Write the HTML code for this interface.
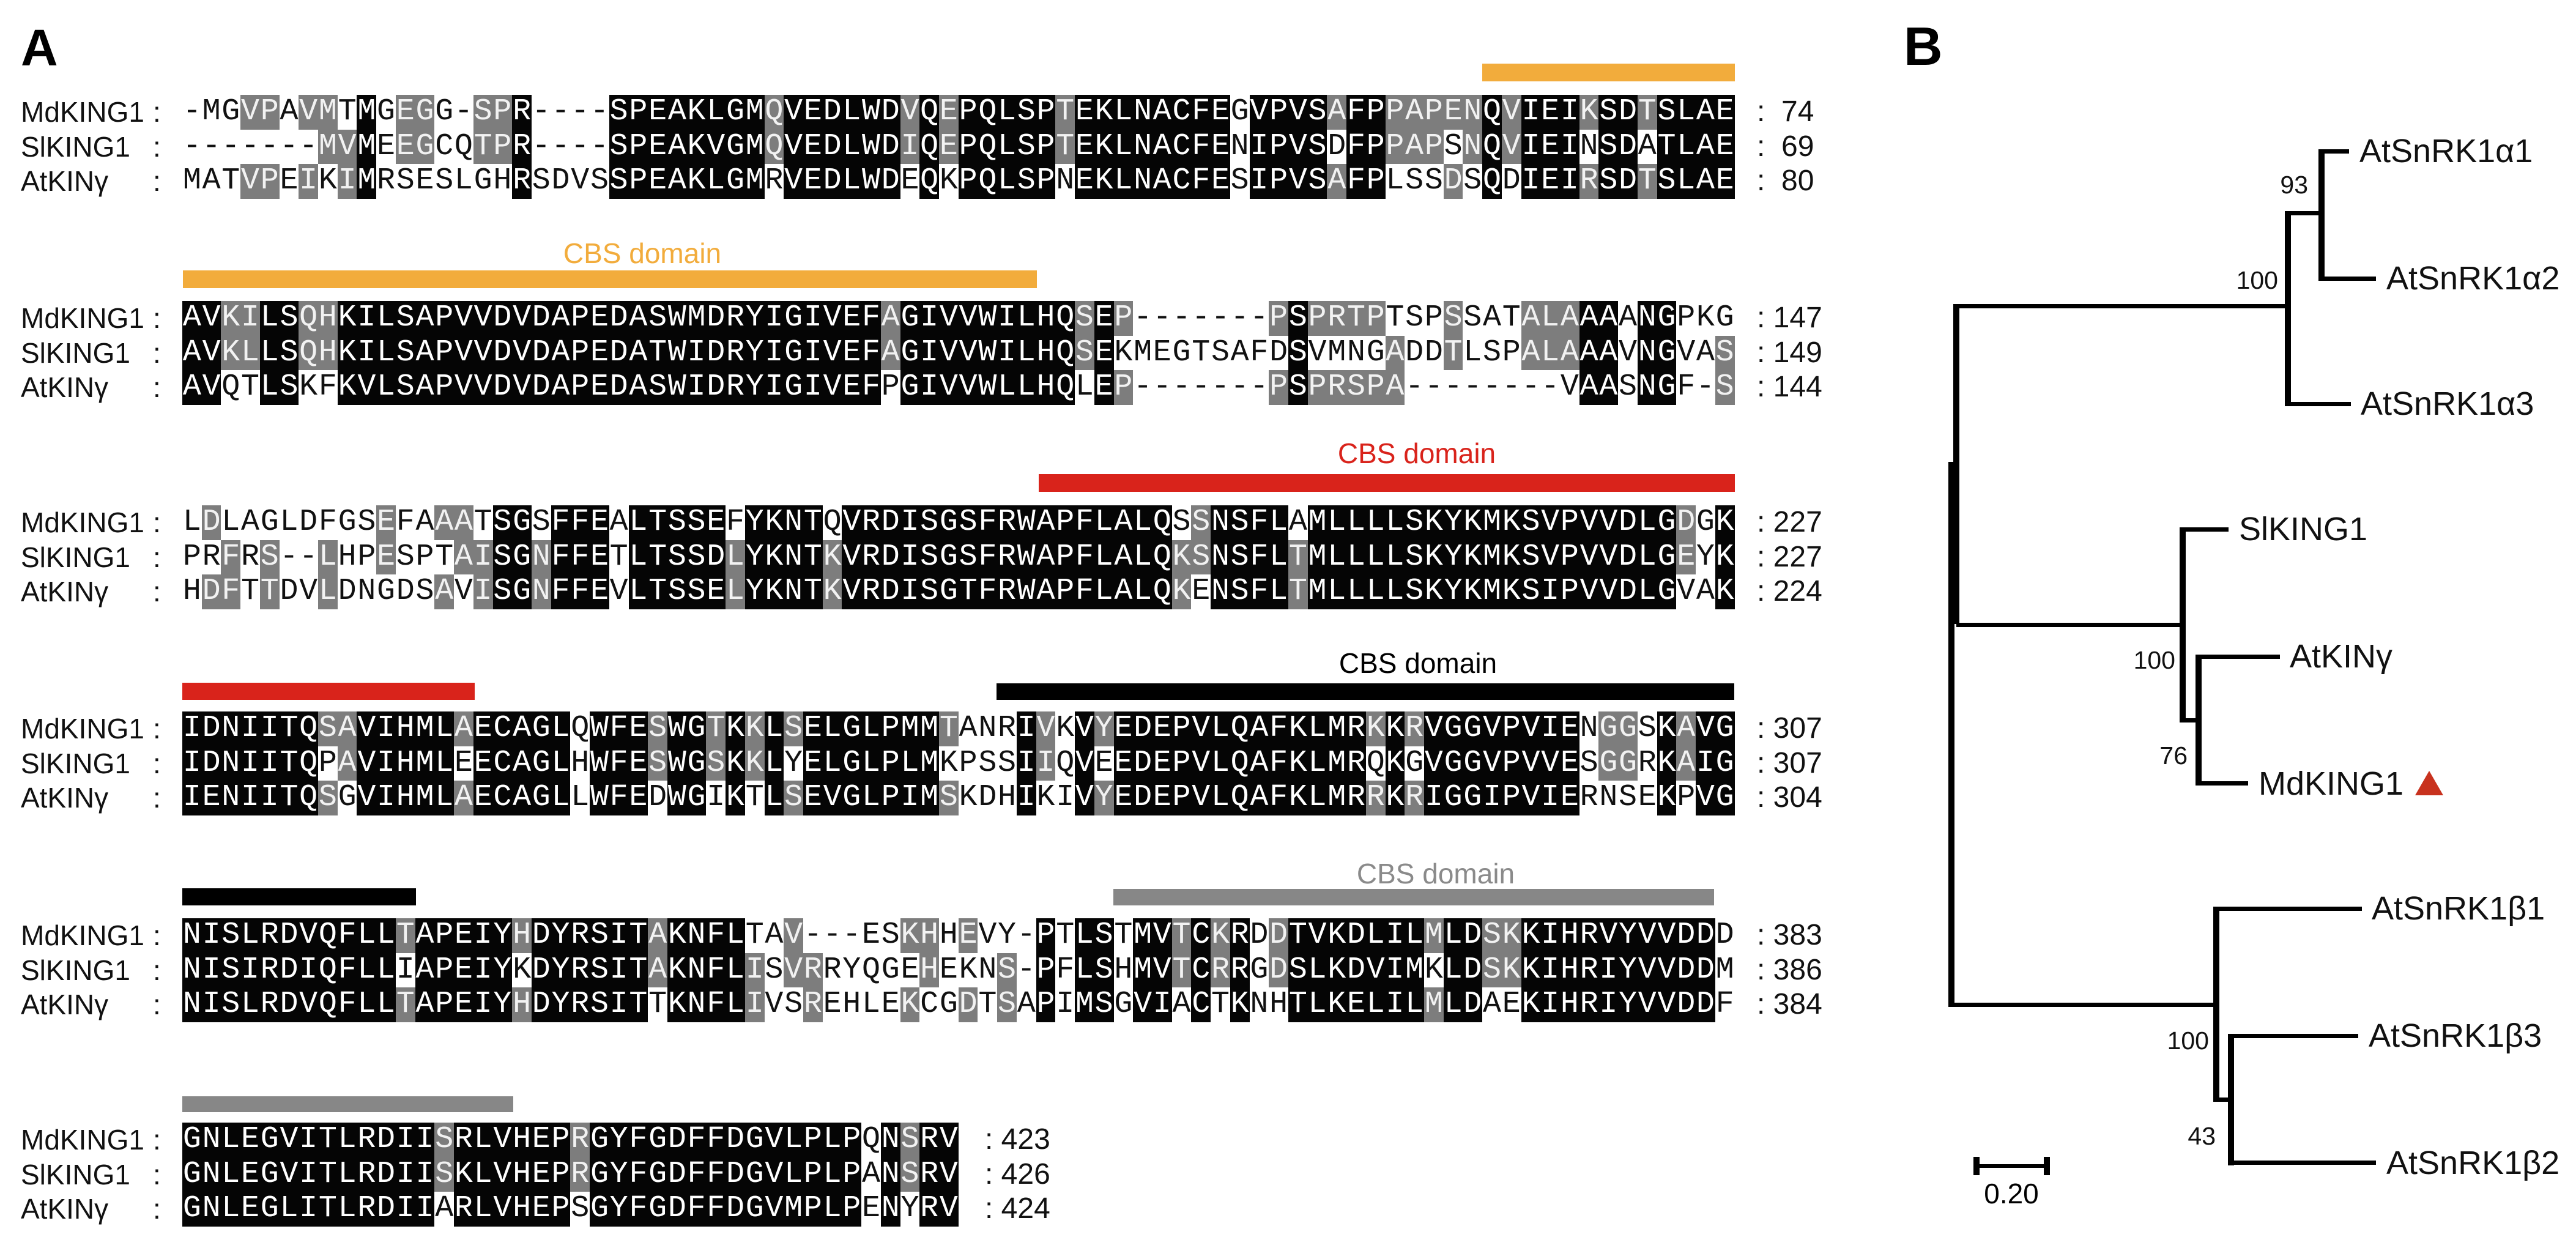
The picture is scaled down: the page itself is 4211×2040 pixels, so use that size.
<!DOCTYPE html>
<html><head><meta charset="utf-8">
<style>
html,body{margin:0;padding:0;background:#fff;}
#page{position:relative;width:4211px;height:2040px;overflow:hidden;background:#fff;font-family:"Liberation Sans",Arial,sans-serif;}
.abs{position:absolute;}
.nm{position:absolute;font-size:46px;height:56px;line-height:56px;color:#111;white-space:nowrap;}
.num{position:absolute;font-size:48px;height:56px;line-height:56px;color:#111;white-space:nowrap;}
.seq{position:absolute;left:298px;height:56.5px;line-height:56.5px;font-family:"Liberation Mono","DejaVu Sans Mono",monospace;font-size:50px;white-space:pre;color:#111;}
.seq span{display:inline-block;width:31.72px;height:56.5px;text-align:center;vertical-align:top;}
.seq span.b{background:#050505;color:#fff;}
.seq span.g{background:#7d7d7d;color:#f2f2f2;}
.bar{position:absolute;}
.lab{position:absolute;font-size:46px;height:50px;line-height:50px;white-space:nowrap;transform:translateX(-50%);}
.ln{position:absolute;background:#000;}
.tl{position:absolute;font-size:54px;height:60px;line-height:60px;white-space:nowrap;color:#111;}
.bs{position:absolute;font-size:41px;height:46px;line-height:46px;white-space:nowrap;color:#111;text-align:right;width:100px;}
</style></head>
<body><div id="page">

<div class="abs" style="left:34px;top:36px;font-size:84px;font-weight:bold;line-height:84px;">A</div>
<div class="abs" style="left:3112px;top:32px;font-size:88px;font-weight:bold;line-height:88px;">B</div>

<div class="bar" style="left:2423px;top:104px;width:413px;height:29px;background:#f2ac3c"></div>
<div class="bar" style="left:299px;top:442px;width:1396px;height:29px;background:#f2ac3c"></div>
<div class="lab" style="left:1050px;top:389px;color:#f2ac3c">CBS domain</div>
<div class="bar" style="left:1698px;top:775px;width:1138px;height:29px;background:#d9231b"></div>
<div class="lab" style="left:2316px;top:716px;color:#d9231b">CBS domain</div>
<div class="bar" style="left:298px;top:1116px;width:478px;height:28px;background:#d9231b"></div>
<div class="bar" style="left:1629px;top:1117px;width:1206px;height:27px;background:#000"></div>
<div class="lab" style="left:2318px;top:1059px;color:#000">CBS domain</div>
<div class="bar" style="left:298px;top:1452px;width:382px;height:28px;background:#000"></div>
<div class="bar" style="left:1820px;top:1453px;width:982px;height:27px;background:#878787"></div>
<div class="lab" style="left:2347px;top:1403px;color:#8a8a8a">CBS domain</div>
<div class="bar" style="left:298px;top:1792px;width:541px;height:26px;background:#878787"></div>

<!-- Block 1 -->
<div class="nm" style="left:34px;top:155px">MdKING1</div><div class="nm" style="left:250px;top:155px">:</div>
<div class="nm" style="left:34px;top:211.5px">SlKING1</div><div class="nm" style="left:250px;top:211.5px">:</div>
<div class="nm" style="left:34px;top:268px">AtKINγ</div><div class="nm" style="left:250px;top:268px">:</div>
<div class="seq" data-blk="1" style="top:155px">-MGVPAVMTMGEGG-SPR----SPEAKLGMQVEDLWDVQEPQLSPTEKLNACFEGVPVSAFPPAPENQVIEIKSDTSLAE</div>
<div class="seq" data-blk="1" style="top:211.5px">-------MVMEEGCQTPR----SPEAKVGMQVEDLWDIQEPQLSPTEKLNACFENIPVSDFPPAPSNQVIEINSDATLAE</div>
<div class="seq" data-blk="1" style="top:268px">MATVPEIKIMRSESLGHRSDVSSPEAKLGMRVEDLWDEQKPQLSPNEKLNACFESIPVSAFPLSSDSQDIEIRSDTSLAE</div>
<div class="num" style="left:2872px;top:155px">: &nbsp;74</div>
<div class="num" style="left:2872px;top:211.5px">: &nbsp;69</div>
<div class="num" style="left:2872px;top:268px">: &nbsp;80</div>

<!-- Block 2 -->
<div class="nm" style="left:34px;top:492px">MdKING1</div><div class="nm" style="left:250px;top:492px">:</div>
<div class="nm" style="left:34px;top:548.5px">SlKING1</div><div class="nm" style="left:250px;top:548.5px">:</div>
<div class="nm" style="left:34px;top:605px">AtKINγ</div><div class="nm" style="left:250px;top:605px">:</div>
<div class="seq" data-blk="2" style="top:492px">AVKILSQHKILSAPVVDVDAPEDASWMDRYIGIVEFAGIVVWILHQSEP-------PSPRTPTSPSSATALAAAANGPKG</div>
<div class="seq" data-blk="2" style="top:548.5px">AVKLLSQHKILSAPVVDVDAPEDATWIDRYIGIVEFAGIVVWILHQSEKMEGTSAFDSVMNGADDTLSPALAAAVNGVAS</div>
<div class="seq" data-blk="2" style="top:605px">AVQTLSKFKVLSAPVVDVDAPEDASWIDRYIGIVEFPGIVVWLLHQLEP-------PSPRSPA--------VAASNGF-S</div>
<div class="num" style="left:2872px;top:492px">: 147</div>
<div class="num" style="left:2872px;top:548.5px">: 149</div>
<div class="num" style="left:2872px;top:605px">: 144</div>

<!-- Block 3 -->
<div class="nm" style="left:34px;top:826px">MdKING1</div><div class="nm" style="left:250px;top:826px">:</div>
<div class="nm" style="left:34px;top:882.5px">SlKING1</div><div class="nm" style="left:250px;top:882.5px">:</div>
<div class="nm" style="left:34px;top:939px">AtKINγ</div><div class="nm" style="left:250px;top:939px">:</div>
<div class="seq" data-blk="3" style="top:826px">LDLAGLDFGSEFAAATSGSFFEALTSSEFYKNTQVRDISGSFRWAPFLALQSSNSFLAMLLLLSKYKMKSVPVVDLGDGK</div>
<div class="seq" data-blk="3" style="top:882.5px">PRFRS--LHPESPTAISGNFFETLTSSDLYKNTKVRDISGSFRWAPFLALQKSNSFLTMLLLLSKYKMKSVPVVDLGEYK</div>
<div class="seq" data-blk="3" style="top:939px">HDFTTDVLDNGDSAVISGNFFEVLTSSELYKNTKVRDISGTFRWAPFLALQKENSFLTMLLLLSKYKMKSIPVVDLGVAK</div>
<div class="num" style="left:2872px;top:826px">: 227</div>
<div class="num" style="left:2872px;top:882.5px">: 227</div>
<div class="num" style="left:2872px;top:939px">: 224</div>

<!-- Block 4 -->
<div class="nm" style="left:34px;top:1163px">MdKING1</div><div class="nm" style="left:250px;top:1163px">:</div>
<div class="nm" style="left:34px;top:1219.5px">SlKING1</div><div class="nm" style="left:250px;top:1219.5px">:</div>
<div class="nm" style="left:34px;top:1276px">AtKINγ</div><div class="nm" style="left:250px;top:1276px">:</div>
<div class="seq" data-blk="4" style="top:1163px">IDNIITQSAVIHMLAECAGLQWFESWGTKKLSELGLPMMTANRIVKVYEDEPVLQAFKLMRKKRVGGVPVIENGGSKAVG</div>
<div class="seq" data-blk="4" style="top:1219.5px">IDNIITQPAVIHMLEECAGLHWFESWGSKKLYELGLPLMKPSSIIQVEEDEPVLQAFKLMRQKGVGGVPVVESGGRKAIG</div>
<div class="seq" data-blk="4" style="top:1276px">IENIITQSGVIHMLAECAGLLWFEDWGIKTLSEVGLPIMSKDHIKIVYEDEPVLQAFKLMRRKRIGGIPVIERNSEKPVG</div>
<div class="num" style="left:2872px;top:1163px">: 307</div>
<div class="num" style="left:2872px;top:1219.5px">: 307</div>
<div class="num" style="left:2872px;top:1276px">: 304</div>

<!-- Block 5 -->
<div class="nm" style="left:34px;top:1501px">MdKING1</div><div class="nm" style="left:250px;top:1501px">:</div>
<div class="nm" style="left:34px;top:1557.5px">SlKING1</div><div class="nm" style="left:250px;top:1557.5px">:</div>
<div class="nm" style="left:34px;top:1614px">AtKINγ</div><div class="nm" style="left:250px;top:1614px">:</div>
<div class="seq" data-blk="5" style="top:1501px">NISLRDVQFLLTAPEIYHDYRSITAKNFLTAV---ESKHHEVY-PTLSTMVTCKRDDTVKDLILMLDSKKIHRVYVVDDD</div>
<div class="seq" data-blk="5" style="top:1557.5px">NISIRDIQFLLIAPEIYKDYRSITAKNFLISVRRYQGEHEKNS-PFLSHMVTCRRGDSLKDVIMKLDSKKIHRIYVVDDM</div>
<div class="seq" data-blk="5" style="top:1614px">NISLRDVQFLLTAPEIYHDYRSITTKNFLIVSREHLEKCGDTSAPIMSGVIACTKNHTLKELILMLDAEKIHRIYVVDDF</div>
<div class="num" style="left:2872px;top:1501px">: 383</div>
<div class="num" style="left:2872px;top:1557.5px">: 386</div>
<div class="num" style="left:2872px;top:1614px">: 384</div>

<!-- Block 6 -->
<div class="nm" style="left:34px;top:1835px">MdKING1</div><div class="nm" style="left:250px;top:1835px">:</div>
<div class="nm" style="left:34px;top:1891.5px">SlKING1</div><div class="nm" style="left:250px;top:1891.5px">:</div>
<div class="nm" style="left:34px;top:1948px">AtKINγ</div><div class="nm" style="left:250px;top:1948px">:</div>
<div class="seq" data-blk="6" style="top:1835px">GNLEGVITLRDIISRLVHEPRGYFGDFFDGVLPLPQNSRV</div>
<div class="seq" data-blk="6" style="top:1891.5px">GNLEGVITLRDIISKLVHEPRGYFGDFFDGVLPLPANSRV</div>
<div class="seq" data-blk="6" style="top:1948px">GNLEGLITLRDIIARLVHEPSGYFGDFFDGVMPLPENYRV</div>
<div class="num" style="left:1610px;top:1835px">: 423</div>
<div class="num" style="left:1610px;top:1891.5px">: 426</div>
<div class="num" style="left:1610px;top:1948px">: 424</div>

<!-- Tree lines -->
<div class="ln" style="left:3193px;top:497px;width:10px;height:523px"></div>
<div class="ln" style="left:3185px;top:755px;width:10px;height:891px"></div>
<div class="ln" style="left:3198px;top:497px;width:545px;height:7px"></div>
<div class="ln" style="left:3735px;top:345px;width:10px;height:319px"></div>
<div class="ln" style="left:3740px;top:657px;width:103px;height:7px"></div>
<div class="ln" style="left:3740px;top:345px;width:58px;height:7px"></div>
<div class="ln" style="left:3790px;top:244px;width:10px;height:215px"></div>
<div class="ln" style="left:3795px;top:244px;width:45px;height:7px"></div>
<div class="ln" style="left:3795px;top:452px;width:89px;height:7px"></div>
<div class="ln" style="left:3198px;top:1018px;width:372px;height:7px"></div>
<div class="ln" style="left:3563px;top:862px;width:10px;height:319px"></div>
<div class="ln" style="left:3568px;top:862px;width:75px;height:7px"></div>
<div class="ln" style="left:3568px;top:1174px;width:29px;height:7px"></div>
<div class="ln" style="left:3589px;top:1070px;width:10px;height:214px"></div>
<div class="ln" style="left:3594px;top:1070px;width:133px;height:7px"></div>
<div class="ln" style="left:3594px;top:1277px;width:81px;height:7px"></div>
<div class="ln" style="left:3190px;top:1639px;width:436px;height:7px"></div>
<div class="ln" style="left:3618px;top:1482px;width:10px;height:319px"></div>
<div class="ln" style="left:3623px;top:1482px;width:238px;height:7px"></div>
<div class="ln" style="left:3623px;top:1794px;width:27px;height:7px"></div>
<div class="ln" style="left:3642px;top:1690px;width:10px;height:215px"></div>
<div class="ln" style="left:3647px;top:1690px;width:208px;height:7px"></div>
<div class="ln" style="left:3647px;top:1897px;width:237px;height:7px"></div>

<div class="ln" style="left:3226px;top:1903px;width:125px;height:6px"></div>
<div class="ln" style="left:3226px;top:1891px;width:10px;height:30px"></div>
<div class="ln" style="left:3341px;top:1891px;width:10px;height:30px"></div>
<div class="abs" style="left:3288px;top:1926px;font-size:46px;line-height:50px;transform:translateX(-50%)">0.20</div>

<div class="tl" style="left:3857px;top:217px">AtSnRK1α1</div>
<div class="tl" style="left:3901px;top:425px">AtSnRK1α2</div>
<div class="tl" style="left:3859px;top:630px">AtSnRK1α3</div>
<div class="tl" style="left:3660px;top:835px">SlKING1</div>
<div class="tl" style="left:3743px;top:1043px">AtKINγ</div>
<div class="tl" style="left:3692px;top:1251px">MdKING1</div>
<div class="tl" style="left:3877px;top:1455px">AtSnRK1β1</div>
<div class="tl" style="left:3872px;top:1663px">AtSnRK1β3</div>
<div class="tl" style="left:3901px;top:1871px">AtSnRK1β2</div>
<svg class="abs" style="left:3946px;top:1258px" width="50" height="44"><polygon points="25,2 48,42 2,42" fill="#c8321e"/></svg>

<div class="bs" style="left:3673px;top:279px">93</div>
<div class="bs" style="left:3624px;top:435px">100</div>
<div class="bs" style="left:3456px;top:1056px">100</div>
<div class="bs" style="left:3476px;top:1212px">76</div>
<div class="bs" style="left:3511px;top:1678px">100</div>
<div class="bs" style="left:3522px;top:1834px">43</div>

</div>
<script>
(function(){
  var G=["LIVM","FYW","KR","DE","ST","NQ"];
  function sim(a,b){ if(a==='-'||b==='-')return false; if(a===b)return true;
    for(var i=0;i<G.length;i++){ if(G[i].indexOf(a)>=0&&G[i].indexOf(b)>=0)return true;} return false;}
  for(var blk=1;blk<=6;blk++){
    var rows=document.querySelectorAll('.seq[data-blk="'+blk+'"]');
    var s=[];for(var r=0;r<rows.length;r++)s.push(rows[r].textContent);
    var cls=[[],[],[]];
    var n=s[0].length;
    for(var c=0;c<n;c++){
      var a=s[0][c],b=s[1][c],d=s[2][c];
      var k=['','',''];
      if(sim(a,b)&&sim(b,d)&&sim(a,d)){k=['b','b','b'];}
      else{
        if(sim(a,b)){k[0]='g';k[1]='g';}
        if(sim(a,d)){k[0]='g';k[2]='g';}
        if(sim(b,d)){k[1]='g';k[2]='g';}
      }
      for(var r2=0;r2<3;r2++)cls[r2].push(k[r2]);
    }
    for(var r3=0;r3<3;r3++){
      var h='';
      for(var c2=0;c2<s[r3].length;c2++){
        h+='<span'+(cls[r3][c2]?' class="'+cls[r3][c2]+'"':'')+'>'+s[r3][c2]+'</span>';
      }
      rows[r3].innerHTML=h;
    }
  }
})();
</script>
</body></html>
